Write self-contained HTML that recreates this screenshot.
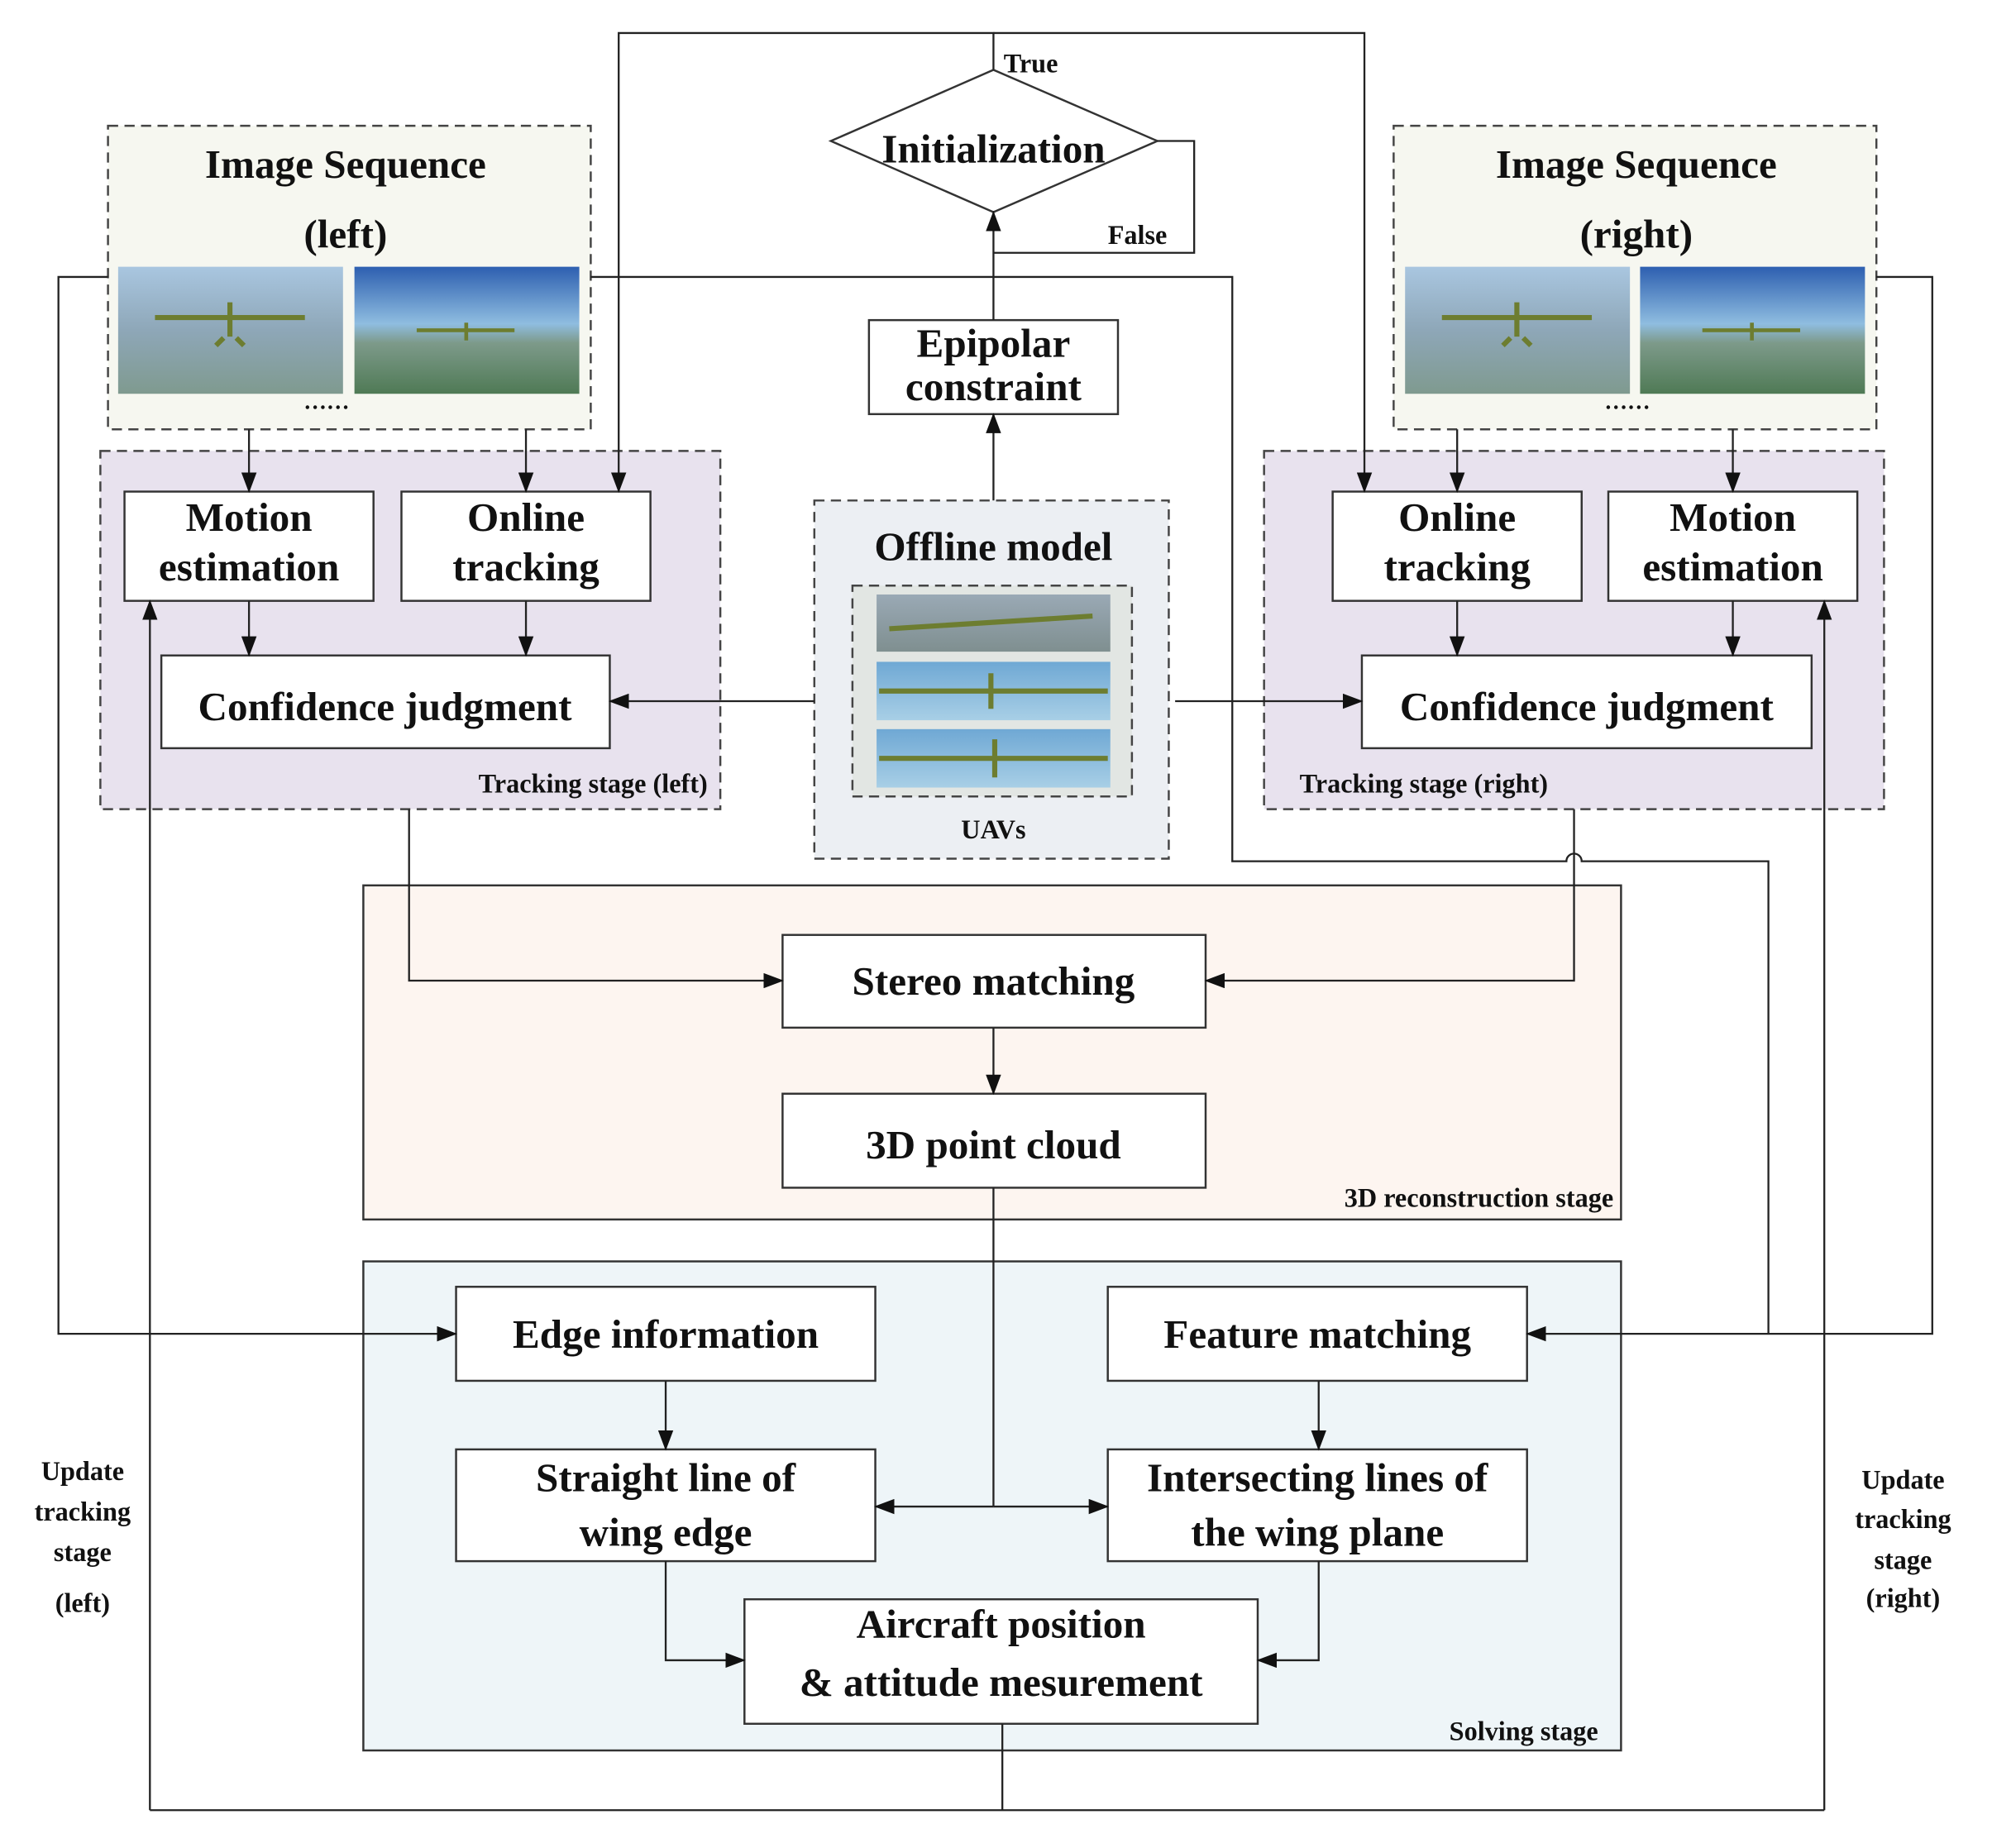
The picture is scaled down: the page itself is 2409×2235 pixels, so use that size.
<!DOCTYPE html>
<html><head><meta charset="utf-8"><style>
html,body{margin:0;padding:0;background:#fff;}
svg{display:block}
text{font-family:"Liberation Serif",serif;font-weight:bold;fill:#111;}
.b{font-size:32px;text-anchor:middle}
.s{font-size:21px}
.ln{stroke:#222;stroke-width:1.5;fill:none}
.bx{fill:#fff;stroke:#333;stroke-width:1.6}
.dash{stroke:#444;stroke-width:1.6;stroke-dasharray:8,5}
</style></head><body>
<svg width="2409" height="2235" viewBox="0 0 1568 1454.8" preserveAspectRatio="none" xmlns="http://www.w3.org/2000/svg">
<defs>
<marker id="a" markerWidth="16" markerHeight="12" refX="15" refY="6" orient="auto" markerUnits="userSpaceOnUse"><path d="M0,0 L16,6 L0,12 z" fill="#111"/></marker>
<linearGradient id="city" x1="0" y1="0" x2="0" y2="1"><stop offset="0" stop-color="#a9c6e0"/><stop offset="0.5" stop-color="#8ea7b8"/><stop offset="1" stop-color="#7f9a8f"/></linearGradient>
<linearGradient id="sky" x1="0" y1="0" x2="0" y2="1"><stop offset="0" stop-color="#2d5fb0"/><stop offset="0.45" stop-color="#8fbde0"/><stop offset="0.6" stop-color="#7d9a8a"/><stop offset="1" stop-color="#4f7a55"/></linearGradient>
<linearGradient id="sky2" x1="0" y1="0" x2="0" y2="1"><stop offset="0" stop-color="#6fa8d4"/><stop offset="1" stop-color="#a8cfe6"/></linearGradient>
<linearGradient id="sky3" x1="0" y1="0" x2="0" y2="1"><stop offset="0" stop-color="#9aa9b5"/><stop offset="1" stop-color="#7f8f90"/></linearGradient>
</defs>

<rect x="85" y="99" width="380" height="239" fill="#f6f7f0" class="dash"/>
<text class="b" x="272" y="140">Image Sequence</text>
<text class="b" x="272" y="195">(left)</text>
<rect x="93" y="210" width="177" height="100" fill="url(#city)"/>
<rect x="279" y="210" width="177" height="100" fill="url(#sky)"/>
<path d="M122,250 L240,250 M181,238 L181,265 M176,266 L170,272 M186,266 L192,272" stroke="#6d7d30" stroke-width="4"/>
<path d="M328,260 L405,260 M367,254 L367,268" stroke="#6d7d30" stroke-width="3"/>
<text x="257" y="322" style="font-size:18px;text-anchor:middle">……</text>

<rect x="1097" y="99" width="380" height="239" fill="#f6f7f0" class="dash"/>
<text class="b" x="1288" y="140">Image Sequence</text>
<text class="b" x="1288" y="195">(right)</text>
<rect x="1106" y="210" width="177" height="100" fill="url(#city)"/>
<rect x="1291" y="210" width="177" height="100" fill="url(#sky)"/>
<path d="M1135,250 L1253,250 M1194,238 L1194,265 M1189,266 L1183,272 M1199,266 L1205,272" stroke="#6d7d30" stroke-width="4"/>
<path d="M1340,260 L1417,260 M1379,254 L1379,268" stroke="#6d7d30" stroke-width="3"/>
<text x="1281" y="322" style="font-size:18px;text-anchor:middle">……</text>

<rect x="79" y="355" width="488" height="282" fill="#e8e2ee" class="dash"/>
<rect x="98" y="387" width="196" height="86" class="bx"/>
<text class="b" x="196" y="418">Motion</text><text class="b" x="196" y="457">estimation</text>
<rect x="316" y="387" width="196" height="86" class="bx"/>
<text class="b" x="414" y="418">Online</text><text class="b" x="414" y="457">tracking</text>
<rect x="127" y="516" width="353" height="73" class="bx"/>
<text class="b" x="303" y="567">Confidence judgment</text>
<text class="s" x="557" y="624" text-anchor="end">Tracking stage (left)</text>

<rect x="995" y="355" width="488" height="282" fill="#e8e2ee" class="dash"/>
<rect x="1049" y="387" width="196" height="86" class="bx"/>
<text class="b" x="1147" y="418">Online</text><text class="b" x="1147" y="457">tracking</text>
<rect x="1266" y="387" width="196" height="86" class="bx"/>
<text class="b" x="1364" y="418">Motion</text><text class="b" x="1364" y="457">estimation</text>
<rect x="1072" y="516" width="354" height="73" class="bx"/>
<text class="b" x="1249" y="567">Confidence judgment</text>
<text class="s" x="1023" y="624">Tracking stage (right)</text>

<rect x="641" y="394" width="279" height="282" fill="#eceff3" class="dash"/>
<text class="b" x="782" y="441">Offline model</text>
<rect x="671" y="461" width="220" height="166" fill="#e2e6e3" class="dash"/>
<rect x="690" y="468" width="184" height="45" fill="url(#sky3)"/>
<rect x="690" y="521" width="184" height="46" fill="url(#sky2)"/>
<rect x="690" y="574" width="184" height="46" fill="url(#sky2)"/>
<path d="M700,495 L860,485 M692,544 L872,544 M780,530 L780,558 M692,597 L872,597 M783,582 L783,612" stroke="#6d7d30" stroke-width="4"/>
<text class="s" x="782" y="660" text-anchor="middle">UAVs</text>

<rect x="684" y="252" width="196" height="74" class="bx"/>
<text class="b" x="782" y="281">Epipolar</text><text class="b" x="782" y="315">constraint</text>
<polygon points="654,111 782,55 911,111 782,167" fill="#fff" stroke="#333" stroke-width="1.6"/>
<text class="b" x="782" y="128">Initialization</text>
<text class="s" x="790" y="57">True</text>
<text class="s" x="872" y="192">False</text>

<rect x="286" y="697" width="990" height="263" fill="#fdf5f0" stroke="#333" stroke-width="1.6"/>
<rect x="616" y="736" width="333" height="73" class="bx"/>
<text class="b" x="782" y="783">Stereo matching</text>
<rect x="616" y="861" width="333" height="74" class="bx"/>
<text class="b" x="782" y="912">3D point cloud</text>
<text class="s" x="1270" y="950" text-anchor="end">3D reconstruction stage</text>

<rect x="286" y="993" width="990" height="385" fill="#eef5f8" stroke="#333" stroke-width="1.6"/>
<rect x="359" y="1013" width="330" height="74" class="bx"/>
<text class="b" x="524" y="1061">Edge information</text>
<rect x="872" y="1013" width="330" height="74" class="bx"/>
<text class="b" x="1037" y="1061">Feature matching</text>
<rect x="359" y="1141" width="330" height="88" class="bx"/>
<text class="b" x="524" y="1174">Straight line of</text><text class="b" x="524" y="1217">wing edge</text>
<rect x="872" y="1141" width="330" height="88" class="bx"/>
<text class="b" x="1037" y="1174">Intersecting lines of</text><text class="b" x="1037" y="1217">the wing plane</text>
<rect x="586" y="1259" width="404" height="98" class="bx"/>
<text class="b" x="788" y="1289">Aircraft position</text><text class="b" x="788" y="1335">&amp; attitude mesurement</text>
<text class="s" x="1258" y="1370" text-anchor="end">Solving stage</text>

<text x="65" y="1165" text-anchor="middle" class="s">Update</text>
<text x="65" y="1197" text-anchor="middle" class="s">tracking</text>
<text x="65" y="1229" text-anchor="middle" class="s">stage</text>
<text x="65" y="1269" text-anchor="middle" class="s">(left)</text>
<text x="1498" y="1172" text-anchor="middle" class="s">Update</text>
<text x="1498" y="1203" text-anchor="middle" class="s">tracking</text>
<text x="1498" y="1235" text-anchor="middle" class="s">stage</text>
<text x="1498" y="1265" text-anchor="middle" class="s">(right)</text>

<path class="ln" d="M196,338 V387" marker-end="url(#a)"/>
<path class="ln" d="M414,338 V387" marker-end="url(#a)"/>
<path class="ln" d="M1147,338 V387" marker-end="url(#a)"/>
<path class="ln" d="M1364,338 V387" marker-end="url(#a)"/>
<path class="ln" d="M196,473 V516" marker-end="url(#a)"/>
<path class="ln" d="M414,473 V516" marker-end="url(#a)"/>
<path class="ln" d="M1147,473 V516" marker-end="url(#a)"/>
<path class="ln" d="M1364,473 V516" marker-end="url(#a)"/>
<path class="ln" d="M641,552 H480" marker-end="url(#a)"/>
<path class="ln" d="M925,552 H1072" marker-end="url(#a)"/>
<path class="ln" d="M782,394 V326" marker-end="url(#a)"/>
<path class="ln" d="M782,252 V167" marker-end="url(#a)"/>
<path class="ln" d="M911,111 H940 V199 H782"/>
<path class="ln" d="M782,55 V26 H487 V387" marker-end="url(#a)"/>
<path class="ln" d="M782,26 H1074 V387" marker-end="url(#a)"/>
<path class="ln" d="M85,218 H46 V1050 H359" marker-end="url(#a)"/>
<path class="ln" d="M465,218 H970 V678 H1233 A6,6 0 0 1 1245,678 H1392 V1050"/>
<path class="ln" d="M1477,218 H1521 V1050 H1202" marker-end="url(#a)"/>
<path class="ln" d="M322,637 V772 H616" marker-end="url(#a)"/>
<path class="ln" d="M1239,637 V772 H949" marker-end="url(#a)"/>
<path class="ln" d="M782,809 V861" marker-end="url(#a)"/>
<path class="ln" d="M782,935 V1186"/>
<path class="ln" d="M782,1186 H689" marker-end="url(#a)"/>
<path class="ln" d="M782,1186 H872" marker-end="url(#a)"/>
<path class="ln" d="M524,1087 V1141" marker-end="url(#a)"/>
<path class="ln" d="M1038,1087 V1141" marker-end="url(#a)"/>
<path class="ln" d="M524,1229 V1307 H586" marker-end="url(#a)"/>
<path class="ln" d="M1038,1229 V1307 H990" marker-end="url(#a)"/>
<path class="ln" d="M789,1357 V1425"/>
<path class="ln" d="M118,1425 H1436"/>
<path class="ln" d="M118,1425 V473" marker-end="url(#a)"/>
<path class="ln" d="M1436,1425 V473" marker-end="url(#a)"/>
</svg>
</body></html>
